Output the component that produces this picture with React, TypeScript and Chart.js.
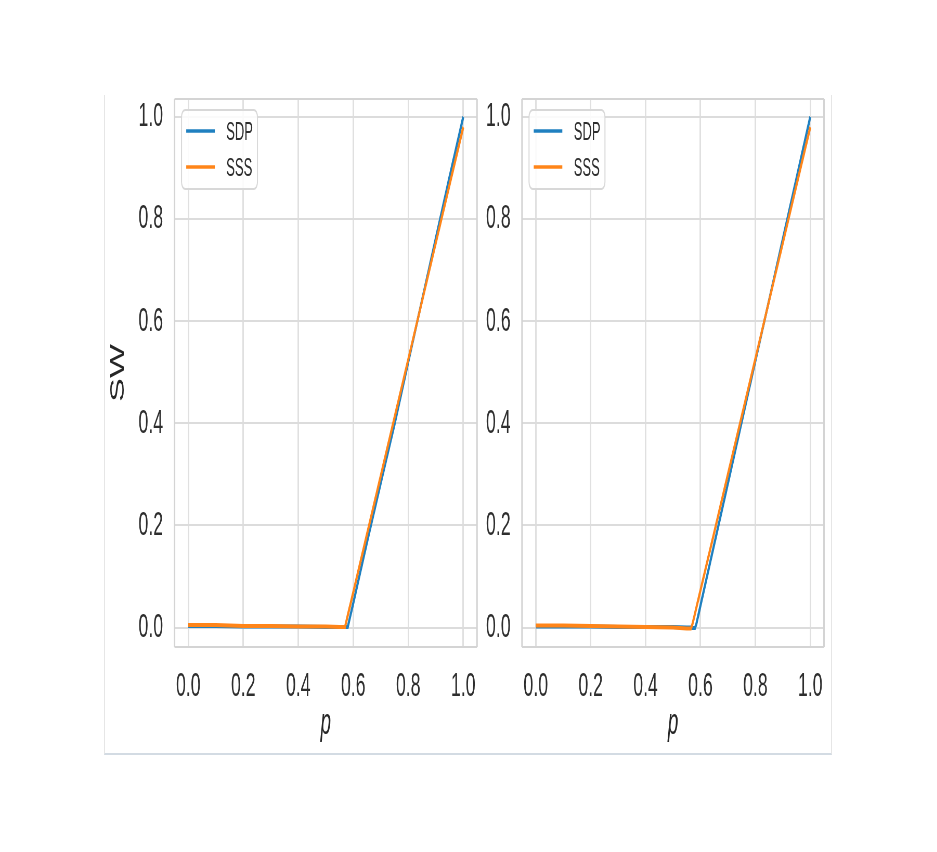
import React, { useEffect, useRef } from 'react';
import { Chart, registerables } from 'chart.js';

Chart.register(...registerables);

// ---- data ----
const P = [0.0, 0.1, 0.2, 0.3, 0.4, 0.5, 0.55, 0.565, 0.57, 0.58, 0.585, 0.6, 0.65, 0.7, 0.75, 0.8, 0.85, 0.9, 0.95, 1.0];
const SDP_LEFT = [0.003, 0.003, 0.002, 0.002, 0.002, 0.001, 0.001, 0.001, 0.001, 0.001, 0.013, 0.048, 0.167, 0.283, 0.398, 0.52, 0.641, 0.762, 0.882, 1.0];
const SSS_LEFT = [0.005, 0.005, 0.003, 0.003, 0.002, 0.002, 0.001, 0.001, 0.001, 0.024, 0.035, 0.069, 0.183, 0.297, 0.411, 0.525, 0.639, 0.753, 0.867, 0.98];
const SDP_RIGHT = [0.002, 0.002, 0.002, 0.001, 0.001, 0.001, 0.0, 0.0, -0.001, -0.001, 0.007, 0.043, 0.163, 0.282, 0.402, 0.522, 0.641, 0.761, 0.88, 1.0];
const SSS_RIGHT = [0.004, 0.004, 0.003, 0.002, 0.001, 0.0, -0.002, -0.002, 0.005, 0.027, 0.039, 0.073, 0.186, 0.3, 0.413, 0.526, 0.64, 0.753, 0.867, 0.98];
const X_TICKS = [0.0, 0.2, 0.4, 0.6, 0.8, 1.0];
const Y_TICKS = [0.0, 0.2, 0.4, 0.6, 0.8, 1.0];
const SERIES_NAMES = ['SDP', 'SSS'];
const SERIES_COLORS = ['#1f80c0', '#ff8519'];
const X_TITLE = 'p';
const Y_TITLE = 'SW';

// ---- layout ----
const S = 0.52; // horizontal squeeze of the figure
const FONT = "'Liberation Sans', Arial, sans-serif";
const TOP = 95;
const H = 660;

const framePlugin = {
  id: 'plotFrame',
  beforeDatasetsDraw(chart: any) {
    const { ctx, chartArea: a } = chart;
    ctx.save();
    ctx.strokeStyle = '#d4d4d4';
    ctx.lineWidth = 2;
    ctx.beginPath();
    ctx.moveTo(a.left, a.top); ctx.lineTo(a.right, a.top);
    ctx.moveTo(a.left, a.bottom); ctx.lineTo(a.right, a.bottom);
    ctx.stroke();
    ctx.lineWidth = 3;
    ctx.beginPath();
    ctx.moveTo(a.left, a.top); ctx.lineTo(a.left, a.bottom);
    ctx.moveTo(a.right, a.top); ctx.lineTo(a.right, a.bottom);
    ctx.stroke();
    ctx.restore();
  },
};

const legendPlugin = {
  id: 'insideLegend',
  afterDatasetsDraw(chart: any) {
    const { ctx, chartArea: a } = chart;
    const x0 = a.left + 13.5;
    const y0 = a.top + 11;
    const w = 146;
    const h = 79;
    ctx.save();
    ctx.beginPath();
    (ctx as any).roundRect(x0, y0, w, h, 7);
    ctx.fillStyle = 'rgba(255,255,255,0.85)';
    ctx.fill();
    ctx.strokeStyle = '#d8d8d8';
    ctx.lineWidth = 2;
    ctx.stroke();
    const items = [...chart.data.datasets].sort((p: any, q: any) => p.legendIndex - q.legendIndex);
    items.forEach((ds: any, i: number) => {
      const cy = y0 + 21 + i * 36;
      ctx.strokeStyle = ds.borderColor;
      ctx.lineWidth = 3.5;
      ctx.beginPath();
      ctx.moveTo(x0 + 9, cy);
      ctx.lineTo(x0 + 64, cy);
      ctx.stroke();
      ctx.fillStyle = '#2e2e2e';
      ctx.font = `25px ${FONT}`;
      ctx.textBaseline = 'middle';
      ctx.textAlign = 'left';
      ctx.fillText(ds.label, x0 + 86, cy + 2);
    });
    ctx.restore();
  },
};

function makeConfig(sdp: number[], sss: number[], yWidth: number, padRight: number, showYTitle: boolean): any {
  const series = [sdp, sss];
  return {
    type: 'line',
    data: {
      datasets: series.map((vals, i) => ({
        label: SERIES_NAMES[i],
        legendIndex: i,
        order: i === 0 ? 1 : 0,
        data: P.map((p, j) => ({ x: p, y: vals[j] })),
        borderColor: SERIES_COLORS[i],
        backgroundColor: SERIES_COLORS[i],
        borderWidth: 4,
        pointRadius: 0,
        tension: 0,
        fill: false,
      })),
    },
    options: {
      responsive: true,
      maintainAspectRatio: false,
      animation: false,
      events: [],
      layout: { padding: { top: 4, bottom: 0, left: 0, right: padRight } },
      plugins: {
        legend: { display: false },
        tooltip: { enabled: false },
        title: { display: false },
      },
      scales: {
        x: {
          type: 'linear',
          min: -0.05,
          max: 1.05,
          afterBuildTicks: (scale: any) => { scale.ticks = X_TICKS.map((v) => ({ value: v })); },
          afterFit: (scale: any) => {
            scale.height = 108;
            scale.paddingLeft = 0;
            scale.paddingRight = 0;
            scale.paddingTop = 0;
            scale.paddingBottom = 0;
          },
          ticks: {
            autoSkip: false,
            maxRotation: 0,
            padding: 19,
            color: '#2e2e2e',
            font: { family: FONT, size: 34 },
            callback: (v: any) => Number(v).toFixed(1),
          },
          grid: { color: '#e0e0e0', lineWidth: 3, drawTicks: false },
          border: { display: false },
          title: {
            display: true,
            text: X_TITLE,
            color: '#262626',
            font: { family: FONT, size: 36, style: 'italic' },
            padding: { top: 0, bottom: 9 },
          },
        },
        y: {
          type: 'linear',
          min: -0.038,
          max: 1.035,
          afterBuildTicks: (scale: any) => { scale.ticks = Y_TICKS.map((v) => ({ value: v })); },
          afterFit: (scale: any) => {
            scale.width = yWidth;
            scale.paddingLeft = 0;
            scale.paddingRight = 0;
            scale.paddingTop = 0;
            scale.paddingBottom = 0;
          },
          ticks: {
            padding: 22,
            color: '#2e2e2e',
            font: { family: FONT, size: 34 },
            callback: (v: any) => Number(v).toFixed(1),
          },
          grid: { color: '#dcdcdc', lineWidth: 2, drawTicks: false },
          border: { display: false },
          title: {
            display: showYTitle,
            text: Y_TITLE,
            color: '#262626',
            font: { family: FONT, size: 36 },
            padding: { top: 6, bottom: 0 },
          },
        },
      },
    },
    plugins: [framePlugin, legendPlugin],
  };
}

function Panel(props: { sdp: number[]; sss: number[]; left: number; innerWidth: number; yWidth: number; padRight: number; showYTitle: boolean }) {
  const ref = useRef<HTMLCanvasElement>(null);
  useEffect(() => {
    if (!ref.current) return;
    const chart = new Chart(ref.current, makeConfig(props.sdp, props.sss, props.yWidth, props.padRight, props.showYTitle));
    return () => chart.destroy();
  }, []);
  return (
    <div
      style={{
        position: 'absolute',
        left: props.left,
        top: TOP,
        width: props.innerWidth,
        height: H,
        transform: `scaleX(${S})`,
        transformOrigin: '0 0',
      }}
    >
      <canvas ref={ref} style={{ display: 'block' }} />
    </div>
  );
}

export default function App() {
  return (
    <div style={{ position: 'absolute', left: 0, top: 0, width: 937, height: 852, background: '#ffffff', overflow: 'hidden' }}>
      <div
        style={{
          position: 'absolute',
          left: 104,
          top: TOP,
          width: 726,
          height: 658,
          borderLeft: '1px solid #e6e6e6',
          borderRight: '1px solid #e6e6e6',
          borderBottom: '2px solid #d3dbe3',
        }}
      />
      <Panel sdp={SDP_LEFT} sss={SSS_LEFT} left={104} innerWidth={723} yWidth={135.6} padRight={5.7} showYTitle={true} />
      <Panel sdp={SDP_RIGHT} sss={SSS_RIGHT} left={480} innerWidth={668} yWidth={80.8} padRight={6.5} showYTitle={false} />
    </div>
  );
}
